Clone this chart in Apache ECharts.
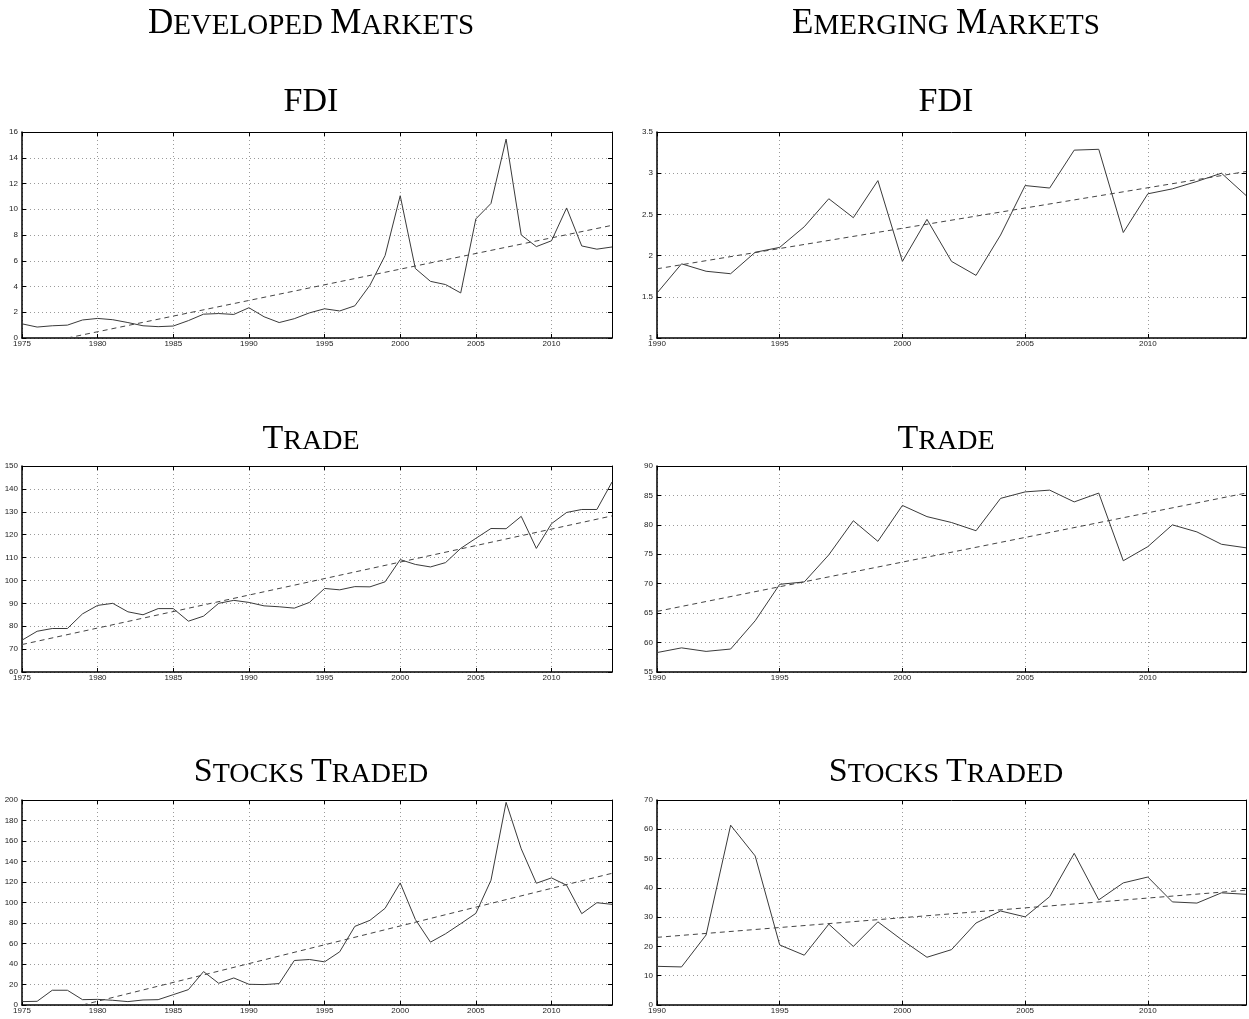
<!DOCTYPE html>
<html>
<head>
<meta charset="utf-8">
<title>Developed vs Emerging Markets</title>
<script src="https://cdn.jsdelivr.net/npm/echarts@6/dist/echarts.min.js"></script>
<style>
  html, body { margin: 0; padding: 0; background: #fff; }
  #chart-panel { width: 1249px; height: 1019px; }
</style>
</head>
<body>
<div id="chart-panel"></div>
<script>
// 年份
var dmYears = [1975, 1976, 1977, 1978, 1979, 1980, 1981, 1982, 1983, 1984,
  1985, 1986, 1987, 1988, 1989, 1990, 1991, 1992, 1993, 1994,
  1995, 1996, 1997, 1998, 1999, 2000, 2001, 2002, 2003, 2004,
  2005, 2006, 2007, 2008, 2009, 2010, 2011, 2012, 2013, 2014];
var emYears = [1990, 1991, 1992, 1993, 1994, 1995, 1996, 1997, 1998, 1999,
  2000, 2001, 2002, 2003, 2004, 2005, 2006, 2007, 2008, 2009,
  2010, 2011, 2012, 2013, 2014];

// Developed markets
var dmFdi = [1.1, 0.85, 0.95, 1.0, 1.4, 1.52, 1.42, 1.2, 0.95, 0.88,
  0.93, 1.35, 1.85, 1.9, 1.83, 2.35, 1.65, 1.2, 1.5, 1.95,
  2.27, 2.1, 2.5, 4.1, 6.4, 11.05, 5.4, 4.4, 4.15, 3.5,
  9.25, 10.45, 15.45, 8.0, 7.1, 7.55, 10.1, 7.15, 6.9, 7.07];
var dmTrade = [73.9, 77.8, 79, 79, 85.4, 89.1, 90, 86.3, 85, 87.7,
  87.7, 82.2, 84.4, 90, 91.3, 90.4, 88.9, 88.5, 87.9, 90.4,
  96.5, 95.9, 97.3, 97.2, 99.4, 109.1, 107, 105.9, 107.8, 114,
  118.4, 122.7, 122.6, 128, 114, 124.8, 129.7, 131, 131, 143];
var dmStocks = [3.3, 3.6, 14.4, 14.4, 5.2, 5.5, 4.6, 3.3, 4.9, 5.2,
  10.1, 15, 32.6, 21.2, 26.4, 20.2, 19.9, 20.9, 43.4, 44.4,
  42.1, 51.9, 76.7, 82.6, 94.3, 119.1, 83.5, 61.3, 69.5, 79.3,
  89.4, 121.7, 197.7, 152.4, 118.8, 124, 116.8, 89.1, 99.8, 98.2];

// Emerging markets
var emFdi = [1.545, 1.9, 1.81, 1.78, 2.04, 2.1, 2.35, 2.69, 2.46, 2.91,
  1.93, 2.44, 1.93, 1.76, 2.25, 2.85, 2.82, 3.28, 3.29, 2.28,
  2.75, 2.81, 2.9, 3.0, 2.73];
var emTrade = [58.3, 59.1, 58.5, 58.9, 63.7, 69.9, 70.3, 74.9, 80.7, 77.2,
  83.3, 81.4, 80.4, 79.0, 84.5, 85.6, 85.9, 83.9, 85.4, 73.9,
  76.3, 80.0, 78.8, 76.7, 76.1];
var emStocks = [13.2, 13, 23.9, 61.4, 50.9, 20.5, 17, 27.6, 20, 28.4,
  22.1, 16.3, 18.9, 28, 32.1, 30.1, 37, 51.8, 35.9, 41.7,
  43.7, 35.2, 34.8, 38.3, 37.8];

// 趋势线 [year, value] 起点和终点
var dmFdiTrend = [[1978, 0], [2014, 8.75]];
var emFdiTrend = [[1990, 1.84], [2014, 3.02]];
var dmTradeTrend = [[1975, 72], [2014, 128.2]];
var emTradeTrend = [[1990, 65.3], [2014, 85.4]];
var dmStocksTrend = [[1979, 0], [2014, 128.5]];
var emStocksTrend = [[1990, 23.1], [2014, 39.2]];

// y axis ranges: [min, max, step]
var dmFdiAxis = [0, 16, 2];
var emFdiAxis = [1, 3.5, 0.5];
var dmTradeAxis = [60, 150, 10];
var emTradeAxis = [55, 90, 5];
var dmStocksAxis = [0, 200, 20];
var emStocksAxis = [0, 70, 10];

var panels = [
  { years: dmYears, values: dmFdi, trend: dmFdiTrend, axis: dmFdiAxis },
  { years: emYears, values: emFdi, trend: emFdiTrend, axis: emFdiAxis },
  { years: dmYears, values: dmTrade, trend: dmTradeTrend, axis: dmTradeAxis },
  { years: emYears, values: emTrade, trend: emTradeTrend, axis: emTradeAxis },
  { years: dmYears, values: dmStocks, trend: dmStocksTrend, axis: dmStocksAxis },
  { years: emYears, values: emStocks, trend: emStocksTrend, axis: emStocksAxis }
];

// layout
var colLeft = [22, 657];
var colWidth = [590, 589];
var colCenter = [311, 946];
var rowTop = [132, 466, 800];
var rowHeight = [206, 206, 205];
var titleTop = [85, 422, 755];

var serif = 'Liberation Serif';
var sans = 'Liberation Sans';

function smallCaps(big, small) {
  return {
    fontFamily: serif,
    fontSize: small,
    fontWeight: 'normal',
    color: '#000',
    rich: {
      b: { fontFamily: serif, fontSize: big, fontWeight: 'normal', color: '#000', verticalAlign: 'bottom' },
      s: { fontFamily: serif, fontSize: small, fontWeight: 'normal', color: '#000', verticalAlign: 'bottom' }
    }
  };
}

var titles = [
  { text: '{b|D}{s|EVELOPED} {b|M}{s|ARKETS}', left: colCenter[0], top: 6, textAlign: 'center', padding: 0, textStyle: smallCaps(35, 29) },
  { text: '{b|E}{s|MERGING} {b|M}{s|ARKETS}', left: colCenter[1], top: 6, textAlign: 'center', padding: 0, textStyle: smallCaps(35, 29) }
];
var rowNames = ['{b|FDI}', '{b|T}{s|RADE}', '{b|S}{s|TOCKS} {b|T}{s|RADED}'];
rowNames.forEach(function (name, r) {
  [0, 1].forEach(function (c) {
    titles.push({ text: name, left: colCenter[c], top: titleTop[r], textAlign: 'center', padding: 0, textStyle: smallCaps(34, 28) });
  });
});

var grids = [], xAxes = [], yAxes = [], series = [];

function plainNum(v) { return String(v); }

panels.forEach(function (p, i) {
  var col = i % 2, row = Math.floor(i / 2);
  var first = p.years[0], last = p.years[p.years.length - 1];
  grids.push({ left: colLeft[col], top: rowTop[row], width: colWidth[col], height: rowHeight[row] });

  var tick = { show: true, inside: true, length: 4, lineStyle: { color: '#000', width: 1 } };
  var grid = { show: true, lineStyle: { color: '#9a9a9a', width: 1, type: [1, 3] } };

  xAxes.push({
    gridIndex: i, type: 'value', position: 'bottom', min: first, max: last, interval: 5,
    axisLine: { onZero: false, lineStyle: { color: '#000', width: 1.5 } },
    axisTick: tick,
    axisLabel: { fontFamily: sans, fontSize: 8, color: '#222', margin: 2, showMaxLabel: false, formatter: plainNum },
    splitLine: grid
  });
  xAxes.push({
    gridIndex: i, type: 'value', position: 'top', min: first, max: last, interval: 5,
    axisLine: { onZero: false, lineStyle: { color: '#000', width: 1 } },
    axisTick: tick, axisLabel: { show: false }, splitLine: { show: false }
  });
  yAxes.push({
    gridIndex: i, type: 'value', position: 'left', min: p.axis[0], max: p.axis[1], interval: p.axis[2],
    axisLine: { show: true, onZero: false, lineStyle: { color: '#000', width: 1.5 } },
    axisTick: tick,
    axisLabel: { fontFamily: sans, fontSize: 8, color: '#222', margin: 4, formatter: plainNum },
    splitLine: grid
  });
  yAxes.push({
    gridIndex: i, type: 'value', position: 'right', min: p.axis[0], max: p.axis[1], interval: p.axis[2],
    axisLine: { show: true, onZero: false, lineStyle: { color: '#000', width: 1 } },
    axisTick: tick, axisLabel: { show: false }, splitLine: { show: false }
  });

  series.push({
    type: 'line', xAxisIndex: 2 * i, yAxisIndex: 2 * i,
    data: p.years.map(function (y, k) { return [y, p.values[k]]; }),
    symbol: 'none', silent: true,
    lineStyle: { color: '#3a3a3a', width: 1 }
  });
  series.push({
    type: 'line', xAxisIndex: 2 * i, yAxisIndex: 2 * i,
    data: p.trend, symbol: 'none', silent: true,
    lineStyle: { color: '#444', width: 1, type: [5, 4] }
  });
});

var myChart = echarts.init(document.getElementById('chart-panel'));
myChart.setOption({
  backgroundColor: '#fff',
  animation: false,
  title: titles,
  grid: grids,
  xAxis: xAxes,
  yAxis: yAxes,
  series: series
});

window.onresize = function () {
  myChart.resize();
};
</script>
</body>
</html>
